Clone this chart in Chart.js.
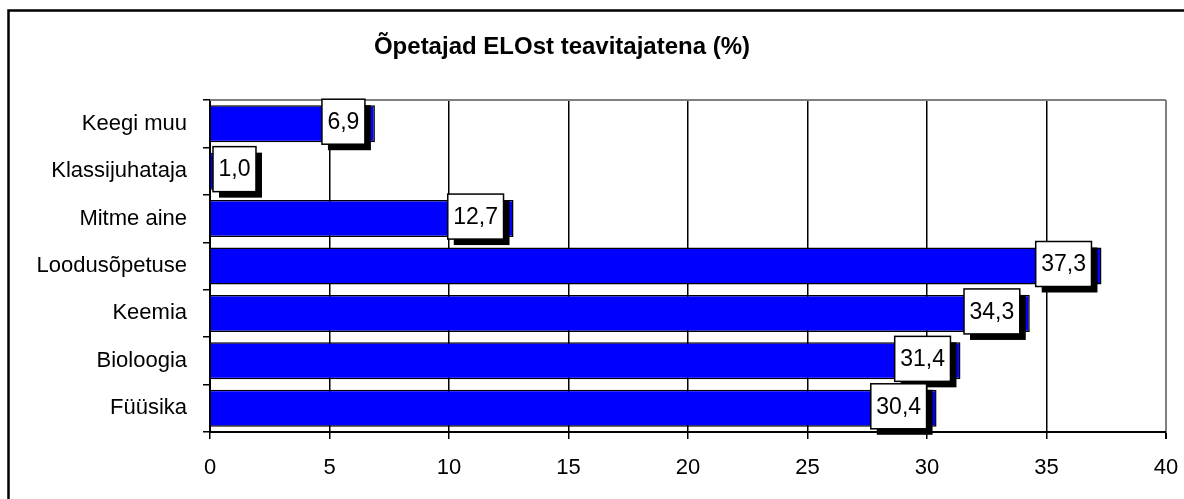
<!DOCTYPE html>
<html>
<head>
<meta charset="utf-8">
<script src="https://cdn.jsdelivr.net/npm/chart.js@4/dist/chart.umd.min.js"></script>
<style>
  html, body { margin: 0; padding: 0; background: #fff; overflow: hidden; }
  #wrap { width: 1184px; height: 499px; position: relative; }
</style>
</head>
<body>
<div id="wrap"><canvas id="eloChart"></canvas></div>
<script>
var chartTitle = "Õpetajad ELOst teavitajatena (%)";
var categories = ["Keegi muu", "Klassijuhataja", "Mitme aine", "Loodusõpetuse", "Keemia", "Bioloogia", "Füüsika"];
var shares = [6.9, 1.0, 12.7, 37.3, 34.3, 31.4, 30.4];
var xTicks = [0, 5, 10, 15, 20, 25, 30, 35, 40];

var FONT = "'Liberation Sans', Arial, sans-serif";

// frame, title, top border and the boxed value labels
var decorations = {
    id: "decorations",
    beforeDraw: function (chart) {
        var c = chart.ctx;
        c.save();
        c.fillStyle = "#fff";
        c.fillRect(0, 0, chart.width, chart.height);
        c.strokeStyle = "#000";
        c.lineWidth = 2.5;
        c.strokeRect(8.5, 10.5, 3000, 3000);
        c.fillStyle = "#000";
        c.font = "bold 24px " + FONT;
        c.textAlign = "center";
        c.textBaseline = "middle";
        c.fillText(chartTitle, 562, 47);
        c.restore();
    },
    beforeDatasetsDraw: function (chart) {
        var a = chart.chartArea;
        var c = chart.ctx;
        c.save();
        c.strokeStyle = "#808080";
        c.lineWidth = 2;
        c.beginPath();
        c.moveTo(a.left, a.top);
        c.lineTo(a.right, a.top);
        c.stroke();
        c.restore();
    },
    afterDatasetsDraw: function (chart) {
        var a = chart.chartArea;
        var c = chart.ctx;
        var meta = chart.getDatasetMeta(0);
        c.save();
        c.font = "23px " + FONT;
        c.textAlign = "center";
        c.textBaseline = "middle";
        meta.data.forEach(function (bar, i) {
            var txt = shares[i].toFixed(1).replace(".", ",");
            var w = c.measureText(txt).width + 11;
            var h = 45;
            var right = bar.x - 10;
            var left = Math.max(right - w, a.left + 3);
            var top = bar.y - 2 - h / 2;
            c.fillStyle = "#000";
            c.fillRect(left + 6, top + 6, w, h);
            c.fillStyle = "#fff";
            c.fillRect(left, top, w, h);
            c.strokeStyle = "#000";
            c.lineWidth = 1.5;
            c.strokeRect(left, top, w, h);
            c.fillStyle = "#000";
            c.fillText(txt, left + w / 2, top + h / 2 + 1);
        });
        c.restore();
    }
};

var ctxx = document.getElementById("eloChart").getContext("2d");

var myChart = new Chart(ctxx, {
    type: "bar",
    data: {
        labels: categories,
        datasets: [
            {
                data: shares,
                backgroundColor: "#0000ff",
                borderColor: "#000",
                borderWidth: 1.5,
                barPercentage: 0.78,
                categoryPercentage: 1,
            },
        ],
    },
    options: {
        indexAxis: "y",
        responsive: true,
        maintainAspectRatio: false,
        animation: false,
        layout: {
            padding: { left: 0, top: 100, right: 18, bottom: 0 },
        },
        scales: {
            x: {
                min: 0,
                max: 40,
                afterBuildTicks: function (scale) {
                    scale.ticks = xTicks.map(function (v) { return { value: v }; });
                },
                afterFit: function (scale) {
                    scale.height = 67;
                    scale.paddingLeft = 0;
                    scale.paddingRight = 0;
                },
                ticks: {
                    color: "#000",
                    padding: 16,
                    font: { family: FONT, size: 22 },
                },
                grid: {
                    color: function (ctx) {
                        return ctx.tick && ctx.tick.value === 40 ? "#808080" : "#000";
                    },
                    lineWidth: function (ctx) {
                        return ctx.tick && ctx.tick.value === 40 ? 2 : 1.5;
                    },
                    tickColor: "#000",
                    tickLength: 7,
                },
                border: { color: "#000", width: 2 },
            },
            y: {
                afterFit: function (scale) {
                    scale.width = 210;
                },
                ticks: {
                    color: "#000",
                    padding: 16,
                    font: { family: FONT, size: 22 },
                },
                grid: {
                    drawOnChartArea: false,
                    offset: true,
                    color: "#000",
                    lineWidth: 1.5,
                    tickLength: 7,
                },
                border: { color: "#000", width: 2 },
            },
        },
        plugins: {
            legend: { display: false },
            title: { display: false },
            tooltip: { enabled: false },
        },
    },
    plugins: [decorations],
});
</script>
</body>
</html>
